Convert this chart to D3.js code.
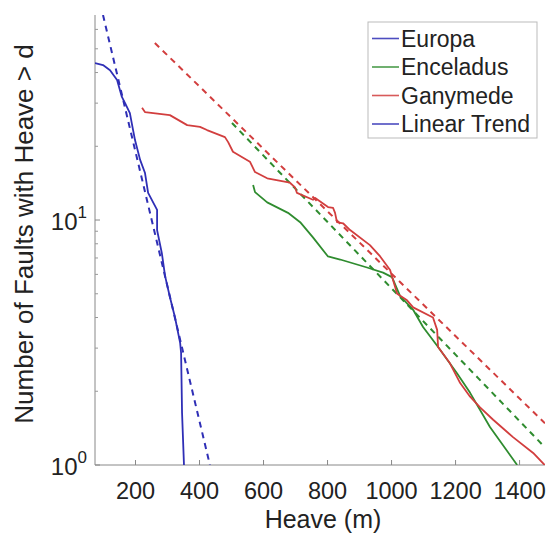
<!DOCTYPE html>
<html><head><meta charset="utf-8">
<script src="https://cdn.jsdelivr.net/npm/d3@7"></script>
<style>body{margin:0;background:#fff}svg{display:block}text{font-family:"Liberation Sans",Arial,sans-serif;fill:#222}</style>
</head><body><svg id="c" width="550" height="535"></svg>
<script>
const seriesNames = ["Europa", "Enceladus", "Ganymede"];
const legendNames = ["Europa", "Enceladus", "Ganymede", "Linear Trend"];
const seriesColors = ["#2f2fb6", "#2f8c2f", "#d23e3e"];
const xTicks = [200, 400, 600, 800, 1000, 1200, 1400];
const yTicks = [1, 10];

const europaX = [75,100,122,144,159,169,184,191,200,216,231,241,269,269,284,294,309,325,341,344,347,353];
const europaY = [43.7,42.9,40.9,37.3,31.8,30.0,27.3,24.4,21.2,17.6,15.6,12.9,11.0,9.1,7.3,5.9,4.85,4.0,3.15,2.87,1.63,1];
const enceladusX = [569,575,613,678,716,756,803,841,925,975,1003,1028,1069,1100,1147,1206,1247,1309,1394];
const enceladusY = [13.9,13.0,11.8,10.7,9.8,8.5,7.1,6.9,6.4,6.1,5.85,4.9,4.3,3.66,3.03,2.37,1.97,1.43,1];
const ganymedeX = [222,231,309,363,403,425,481,491,506,559,575,613,684,700,706,756,763,803,819,825,831,850,872,934,966,997,1019,1050,1069,1131,1144,1147,1184,1216,1247,1278,1319,1381,1444,1480];
const ganymedeY = [28.7,27.6,26.8,24.4,24.0,23.3,21.8,20.8,19.0,17.3,15.7,14.8,14.2,13.6,12.9,12.1,12.3,11.3,11.2,10.7,9.8,9.7,9.1,7.9,7.1,6.25,5.0,4.7,4.4,4.0,3.56,3.03,2.6,2.16,1.9,1.72,1.53,1.30,1.12,1];
// trend line end points [x0, x1], [y0, y1]
const europaTrendX = [100, 434];
const europaTrendY = [68.7, 1];
const enceladusTrendX = [503, 1481];
const enceladusTrendY = [24.9, 1.18];
const ganymedeTrendX = [262, 1481];
const ganymedeTrendY = [52.8, 1.48];

const svg = d3.select("#c");
const L = 95, R = 545, T = 15, B = 465;
const x = d3.scaleLinear().domain([75, 1481]).range([L, R]);
const y = d3.scaleLog().domain([1, 68.7]).range([B, T]);

const zip = (xs, ys) => xs.map((v, i) => [v, ys[i]]);
const line = d3.line().x(d => x(d[0])).y(d => y(d[1]));

svg.append("defs").append("clipPath").attr("id", "clip")
  .append("rect").attr("x", L).attr("y", T).attr("width", R - L).attr("height", B - T);

// axes
const xAxis = svg.append("g").attr("transform", `translate(0,${B})`)
  .call(d3.axisBottom(x).tickValues(xTicks).tickSize(-5).tickPadding(17).tickFormat(d3.format("d")));
xAxis.select(".domain").attr("stroke", "#888").attr("d", `M${L},0H${R}`);
xAxis.selectAll(".tick line").attr("stroke", "#888");
xAxis.selectAll("text").attr("font-size", 23.5).attr("fill", "#222");

const minor = [];
for (let d = 1; d <= 60; d *= 10) for (let k = 2; k <= 9; k++) if (d * k <= 68.7) minor.push(d * k);
const yg = svg.append("g").attr("transform", `translate(${L},0)`);
yg.append("line").attr("x1", 0).attr("x2", 0).attr("y1", T).attr("y2", B).attr("stroke", "#888");
yg.selectAll(".mn").data(minor).enter().append("line")
  .attr("x1", 0).attr("x2", 3).attr("y1", d => y(d)).attr("y2", d => y(d)).attr("stroke", "#999");
yg.selectAll(".mj").data(yTicks).enter().append("line")
  .attr("x1", 0).attr("x2", 5).attr("y1", d => y(d)).attr("y2", d => y(d)).attr("stroke", "#888");
const yl = yg.selectAll(".yl").data(yTicks).enter().append("text")
  .attr("x", -8).attr("y", d => y(d) + 10).attr("text-anchor", "end").attr("font-size", 24);
yl.append("tspan").text("10");
yl.append("tspan").attr("dy", -12).attr("font-size", 17).text((d) => Math.round(Math.log10(d)));

// data
const plot = svg.append("g").attr("clip-path", "url(#clip)");
const series = [zip(europaX, europaY), zip(enceladusX, enceladusY), zip(ganymedeX, ganymedeY)];
const trends = [zip(europaTrendX, europaTrendY), zip(enceladusTrendX, enceladusTrendY), zip(ganymedeTrendX, ganymedeTrendY)];
trends.forEach((t, i) => plot.append("path").attr("d", line(t)).attr("fill", "none")
  .attr("stroke", seriesColors[i]).attr("stroke-width", 2).attr("stroke-dasharray", "6,5"));
series.forEach((s, i) => plot.append("path").attr("d", line(s)).attr("fill", "none")
  .attr("stroke", seriesColors[i]).attr("stroke-width", 1.8).attr("stroke-linejoin", "round"));

// axis labels
svg.append("text").attr("x", (L + R) / 2 + 3).attr("y", 528).attr("text-anchor", "middle")
  .attr("font-size", 25).text("Heave (m)");
svg.append("text").attr("transform", `translate(33,${(T + B) / 2 - 6}) rotate(-90)`)
  .attr("text-anchor", "middle").attr("font-size", 26).text("Number of Faults with Heave > d");

// legend
const lg = svg.append("g");
lg.append("rect").attr("x", 368).attr("y", 22).attr("width", 169).attr("height", 116)
  .attr("fill", "#fff").attr("stroke", "#bbb");
const legColors = [seriesColors[0], seriesColors[1], seriesColors[2], seriesColors[0]];
legendNames.forEach((n, i) => {
  const yy = 38.5 + i * 28.5;
  lg.append("line").attr("x1", 372).attr("x2", 399).attr("y1", yy).attr("y2", yy)
    .attr("stroke", legColors[i]).attr("stroke-width", 1.6).attr("opacity", 0.85);
  lg.append("text").attr("x", 401).attr("y", yy + 8).attr("font-size", 23).text(n);
});
</script></body></html>
